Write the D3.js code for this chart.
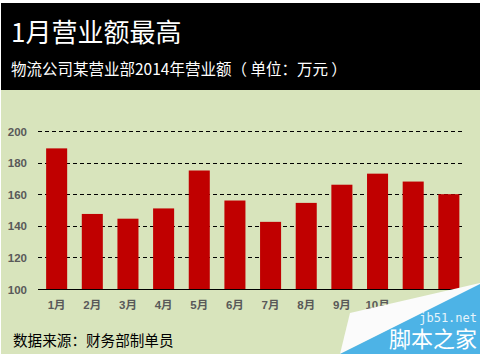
<!DOCTYPE html>
<html><head><meta charset="utf-8">
<script src="https://cdn.jsdelivr.net/npm/d3@7"></script>
<style>html,body{margin:0;padding:0;background:#fff;}svg{display:block;}</style>
</head><body>
<script>
const months = ["1月","2月","3月","4月","5月","6月","7月","8月","9月","10月","11月","12月"];
const revenue = [189, 147.5, 144.5, 151, 175, 156, 142.5, 154.5, 166, 173, 168, 160];
const yTicks = [100, 120, 140, 160, 180, 200];
const title = "1月营业额最高";
const subtitle = "物流公司某营业部2014年营业额（ 单位：万元 ）";
const source = "数据来源：财务部制单员";

const W = 480, H = 354;
const svg = d3.select("body").append("svg").attr("width", W).attr("height", H);
const cjk = "'Noto Sans CJK SC','Noto Sans',sans-serif";

svg.append("rect").attr("width", W).attr("height", H).attr("fill", "#fff");
svg.append("rect").attr("x", 1).attr("y", 90).attr("width", W - 1).attr("height", H - 90).attr("fill", "#d8e4bc");
svg.append("rect").attr("x", 1).attr("y", 3).attr("width", W - 1).attr("height", 87).attr("fill", "#000");

svg.append("text").attr("x", 11).attr("y", 42).attr("fill", "#fff")
  .attr("font-family", cjk).attr("font-size", 26).text(title);
svg.append("text").attr("x", 11).attr("y", 75).attr("fill", "#fff")
  .attr("font-family", cjk).attr("font-size", 15.5).attr("xml:space", "preserve")
  .style("white-space", "pre").text(subtitle);

const x = d3.scaleBand().domain(months).range([39, 466.5]).paddingInner(0.41).paddingOuter(0.2);
const y = d3.scaleLinear().domain([100, 200]).range([289, 131]);

const g = svg.append("g");
// gridlines
g.selectAll("line.grid").data(yTicks.filter(d => d > 100)).join("line")
  .attr("x1", 38).attr("x2", 464)
  .attr("y1", d => Math.round(y(d)) + 0.5).attr("y2", d => Math.round(y(d)) + 0.5)
  .attr("stroke", "#000").attr("stroke-width", 1).attr("stroke-dasharray", "4,3");

// bars
g.selectAll("rect.bar").data(revenue).join("rect")
  .attr("x", (d, i) => x(months[i])).attr("width", x.bandwidth())
  .attr("y", d => y(d)).attr("height", d => y(100) - y(d))
  .attr("fill", "#c00000");

// baseline
g.append("line").attr("x1", 38).attr("x2", 461)
  .attr("y1", Math.round(y(100)) + 0.5).attr("y2", Math.round(y(100)) + 0.5)
  .attr("stroke", "#000").attr("stroke-width", 1.2);

// y axis labels
const yAxis = d3.axisLeft(y).tickValues(yTicks).tickSize(0).tickPadding(0);
const ya = svg.append("g").attr("transform", "translate(27,0)").call(yAxis);
ya.select(".domain").remove();
ya.selectAll("text").attr("fill", "#595959").attr("font-family", "'Liberation Sans',Arial,sans-serif")
  .attr("font-weight", "bold").attr("font-size", 11.5).attr("dy", "0.35em");

// x axis labels
const xAxis = d3.axisBottom(x).tickSize(0).tickPadding(0);
const xa = svg.append("g").attr("transform", "translate(0,301)").call(xAxis);
xa.select(".domain").remove();
xa.selectAll("text").attr("fill", "#595959").attr("font-family", "'Liberation Sans','Noto Sans CJK SC',sans-serif")
  .attr("font-weight", "bold").attr("font-size", 11.5).attr("dy", "0.71em");

svg.append("text").attr("x", 13).attr("y", 346).attr("fill", "#000")
  .attr("font-family", cjk).attr("font-size", 14.6).text(source);

// watermark corner
svg.append("polygon").attr("points", "350,313 480,283 480,285 340,354").attr("fill", "#fbfbfb");
svg.append("polygon").attr("points", "340,354 480,284 480,354").attr("fill", "#4db3e6");
svg.append("text").attr("x", 477).attr("y", 322).attr("text-anchor", "end").attr("fill", "#e6f4fb")
  .attr("font-family", "'DejaVu Sans Mono',monospace").attr("font-size", 12).text("jb51.net");
svg.append("text").attr("x", 477).attr("y", 347).attr("text-anchor", "end").attr("fill", "#fff")
  .attr("font-family", cjk).attr("font-size", 22).text("脚本之家");
</script>
</body></html>
